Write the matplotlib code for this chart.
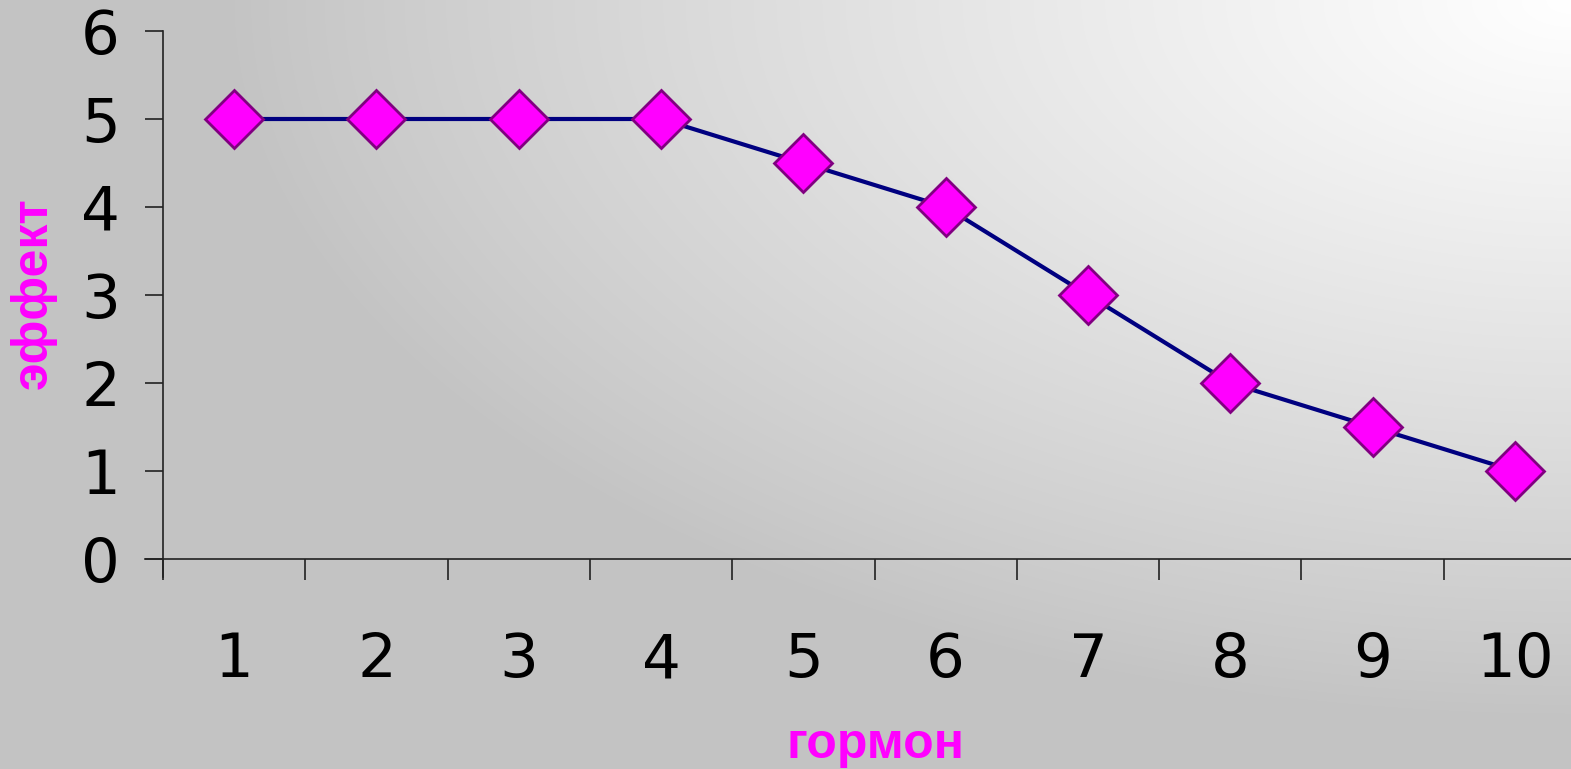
import numpy as np
import matplotlib.pyplot as plt

doses = [1, 2, 3, 4, 5, 6, 7, 8, 9, 10]
effect = [5, 5, 5, 5, 4.5, 4, 3, 2, 1.5, 1]
y_ticks = [0, 1, 2, 3, 4, 5, 6]

W, H = 1571, 769
fig = plt.figure(figsize=(W / 100, H / 100), dpi=100)

# grey backdrop lightening toward the upper right corner
yy, xx = np.mgrid[0:H, 0:W]
d = np.sqrt(((xx - W) / 1350.0) ** 2 + (yy / 720.0) ** 2)
shade = 0.765 + 0.235 * np.clip(1 - d, 0, 1) ** 0.9
bg = fig.add_axes([0, 0, 1, 1], zorder=-1)
bg.imshow(np.dstack([shade] * 3), aspect='auto', extent=[0, 1, 0, 1])
bg.axis('off')

ax = fig.add_axes([163 / W, (H - 559) / H, 1 - 163 / W, (559 - 31) / H])
ax.patch.set_alpha(0)

ax.plot(doses, effect, color='#000080', lw=3, marker='D', ms=30,
        mfc='#ff00ff', mec='#800080', mew=2, clip_on=False, zorder=3)

step = 142.3
ax.set_xlim(0.5, 0.5 + (W - 163) / step)
ax.set_ylim(0, 6)

# ticks sit between categories, labels at the category centres
ax.set_xticks([i + 0.5 for i in range(10)])
ax.set_xticklabels([])
ax.set_xticks(doses, minor=True)
ax.set_xticklabels([str(v) for v in doses], minor=True)
ax.tick_params(axis='x', which='major', direction='out', length=15, width=1.2, color='#222222')
ax.tick_params(axis='x', which='minor', length=0, pad=52, labelsize=44)
ax.set_yticks(y_ticks)
ax.tick_params(axis='y', direction='out', length=13, width=1.2, color='#222222',
               pad=18, labelsize=44)

for s in ['top', 'right']:
    ax.spines[s].set_visible(False)
for s in ['left', 'bottom']:
    ax.spines[s].set_color('#222222')
    ax.spines[s].set_linewidth(1.2)
ax.spines['left'].set_bounds(-0.2, 6)
ax.spines['bottom'].set_bounds(0.37, 0.5 + (W - 163) / step)

fig.text(875 / W, 1 - 745 / H, 'гормон', color='#ff00ff', fontsize=36,
         fontweight='bold', family='Liberation Sans', ha='center', va='center')
fig.text(33 / W, 1 - 293 / H, 'эффект', color='#ff00ff', fontsize=36,
         fontweight='bold', family='Liberation Sans', ha='center', va='center',
         rotation=90)

fig.savefig('out.png', dpi=100)
